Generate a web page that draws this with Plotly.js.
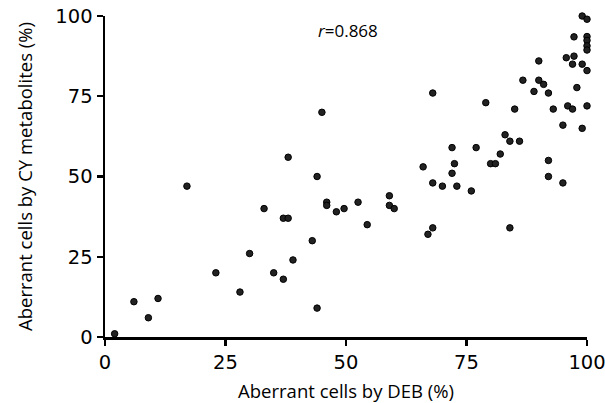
<!DOCTYPE html>
<html>
<head>
<meta charset="utf-8">
<script src="https://cdn.plot.ly/plotly-3.0.1.min.js"></script>
<style>html,body{margin:0;padding:0;background:#fff;}#chart{width:605px;height:403px;}</style>
</head>
<body>
<div id="chart"></div>
<script>
// Aberrant cells by DEB (%)
const debPct = [2, 6, 9, 11, 17, 23, 28, 30, 33, 35, 37, 38, 37, 38, 39, 43, 44, 44, 45, 46,
  46, 48, 49.6, 52.5, 54.4, 59, 59, 60, 66, 67, 68, 68, 68, 70, 72, 72.5, 72, 73, 76, 77,
  79, 80, 81, 82, 83, 84, 84, 85, 86, 86.7, 89, 90, 90, 91, 92, 92, 92, 93, 95, 95,
  95.7, 96, 97, 97, 97.3, 97.3, 97.9, 99, 99, 99, 100, 100, 100, 100, 100, 100, 100];
// Aberrant cells by CY metabolites (%)
const cyPct = [1, 11, 6, 12, 47, 20, 14, 26, 40, 20, 37, 37, 18, 56, 24, 30, 9, 50, 70, 42,
  41, 39, 40, 42, 35, 44, 41, 40, 53, 32, 34, 48, 76, 47, 59, 54, 51, 47, 45.5, 59,
  73, 54, 54, 57, 63, 61, 34, 71, 61, 80, 76.5, 86, 80, 78.7, 76, 55, 50, 71, 66, 48,
  87, 72, 71, 85, 87.5, 93.5, 77.7, 100, 85, 65, 99, 93.6, 92.4, 90.7, 89.4, 83, 72];
const xTicks = [0, 25, 50, 75, 100];
const yTicks = [0, 25, 50, 75, 100];
const rLabel = '<i>r</i>=0.868';

const trace = {
  x: debPct, y: cyPct, type: 'scatter', mode: 'markers', cliponaxis: false,
  marker: {size: 6.5, color: '#222', line: {color: '#000', width: 1}},
  hoverinfo: 'skip'
};
const tickFont = {family: 'DejaVu Sans, sans-serif', size: 19.5, color: '#000'};
const titleFont = {family: 'Open Sans, sans-serif', size: 18.5, color: '#000'};
const layout = {
  width: 605, height: 403,
  margin: {l: 104.7, r: 17.7, t: 15.7, b: 66.3},
  paper_bgcolor: '#fff', plot_bgcolor: '#fff',
  showlegend: false,
  xaxis: {
    range: [0, 100], tickvals: xTicks, ticktext: xTicks.map(String),
    showgrid: false, zeroline: false, showline: true, linecolor: '#000', linewidth: 2.5,
    ticks: 'outside', ticklen: 6, tickwidth: 2.2, tickcolor: '#000',
    tickfont: tickFont, ticklabeloverflow: 'allow',
    title: {text: 'Aberrant cells by DEB (%)', font: titleFont, standoff: 14}
  },
  yaxis: {
    range: [0, 100], tickvals: yTicks, ticktext: yTicks.map(String),
    showgrid: false, zeroline: false, showline: true, linecolor: '#000', linewidth: 2.5,
    ticks: 'outside', ticklen: 6, tickwidth: 2.2, tickcolor: '#000',
    tickfont: tickFont, ticklabeloverflow: 'allow',
    title: {text: 'Aberrant cells by CY metabolites (%)', font: titleFont, standoff: 18}
  },
  annotations: [{
    x: 43.8, y: 95.5, xref: 'x', yref: 'y', xanchor: 'left', yanchor: 'middle',
    text: rLabel, showarrow: false,
    font: {family: 'Open Sans, sans-serif', size: 17, color: '#000'}
  }]
};
Plotly.newPlot('chart', [trace], layout, {displayModeBar: false, staticPlot: true});
</script>
</body>
</html>
